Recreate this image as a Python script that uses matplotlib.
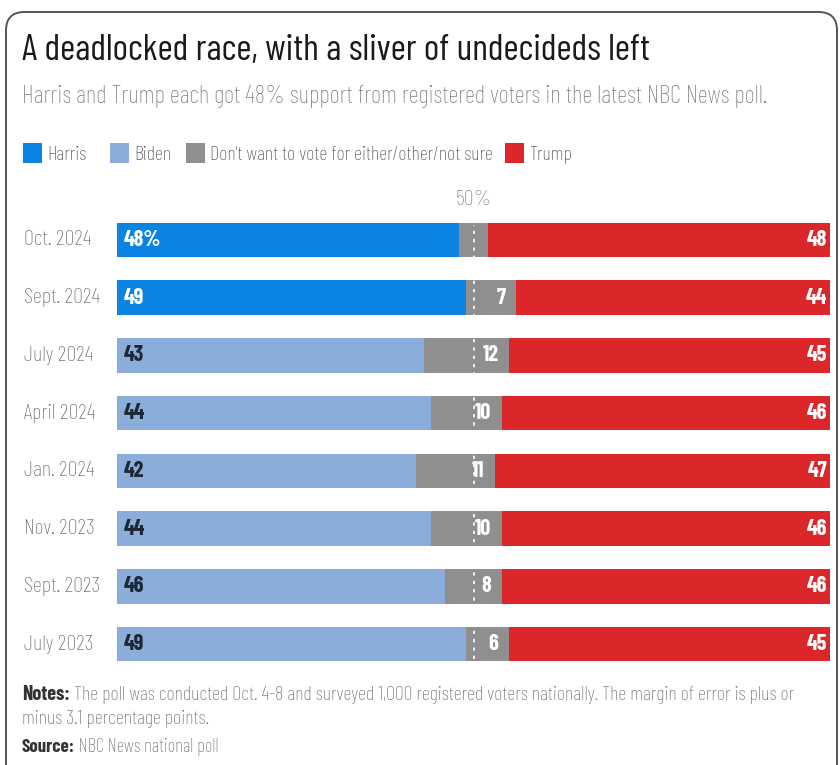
import matplotlib
matplotlib.use("Agg")
import matplotlib.pyplot as plt
import matplotlib.transforms as mtransforms
from matplotlib.patches import FancyBboxPatch, Rectangle
import numpy as np

plt.rcParams['font.family'] = ['Barlow Condensed', 'Roboto Condensed', 'DejaVu Sans']

# data (percent)
polls = ['Oct. 2024', 'Sept. 2024', 'July 2024', 'April 2024',
         'Jan. 2024', 'Nov. 2023', 'Sept. 2023', 'July 2023']
candidate = ['Harris', 'Harris', 'Biden', 'Biden', 'Biden', 'Biden', 'Biden', 'Biden']
dem = [48, 49, 43, 44, 42, 44, 46, 49]
undecided = [4, 7, 12, 10, 11, 10, 8, 6]
trump = [48, 44, 45, 46, 47, 46, 46, 45]
undecided_labels = ['', '7', '12', '10', '11', '10', '8', '6']
dem_labels = ['48%', '49', '43', '44', '42', '44', '46', '49']

legend_items = ['Harris', 'Biden', "Don't want to vote for either/other/not sure", 'Trump']

colors = {'Harris': '#0a84e3', 'Biden': '#8aaed9', 'Undecided': '#8f8f8f', 'Trump': '#dc272a'}
label_colors = {'Harris': 'white', 'Biden': '#1d2735'}

W, H = 840, 765
fig = plt.figure(figsize=(W / 100, H / 100), dpi=100, facecolor='white')


def fx(x):
    return x / W


def fy(y):
    return 1 - y / H


# rounded card border
card = FancyBboxPatch((fx(6), fy(790)), fx(831), (790 - 12) / H,
                      boxstyle="round,pad=0,rounding_size=0.022",
                      transform=fig.transFigure, facecolor='none',
                      edgecolor='#555555', linewidth=1.4, mutation_aspect=W / H)
fig.patches.append(card)

# title block
fig.text(fx(22), fy(60), 'A deadlocked race, with a sliver of undecideds left',
         fontsize=26.5, color='#1a1a1a', va='baseline')
fig.text(fx(22), fy(103), 'Harris and Trump each got 48% support from registered voters in the latest NBC News poll.',
         fontsize=18, color='#7a7a7a', fontweight='light', va='baseline')

# legend
leg_x = [23, 110, 186, 505]
leg_colors = [colors['Harris'], colors['Biden'], colors['Undecided'], colors['Trump']]
for x, lab, c in zip(leg_x, legend_items, leg_colors):
    fig.patches.append(Rectangle((fx(x), fy(163)), 19 / W, 20 / H,
                                 transform=fig.transFigure, facecolor=c, edgecolor='none'))
    fig.text(fx(x + 24), fy(160), lab, fontsize=14.5, color='#444444',
             fontweight='light', va='baseline')

# bars
ax = fig.add_axes([fx(117), fy(673), (830 - 117) / W, (673 - 211) / H])
y = np.arange(len(polls))
dem = np.array(dem)
undecided = np.array(undecided)
trump = np.array(trump)

ax.barh(y, dem, height=0.6, color=[colors[c] for c in candidate])
ax.barh(y, undecided, left=dem, height=0.6, color=colors['Undecided'])
ax.barh(y, trump, left=dem + undecided, height=0.6, color=colors['Trump'])

ax.axvline(50, ymin=0.03, ymax=0.97, color='white', linestyle=(0, (2, 3)), linewidth=1.2)

row_trans = mtransforms.blended_transform_factory(fig.transFigure, ax.transData)
for i in range(len(polls)):
    ax.text(1.0, i, dem_labels[i], color=label_colors[candidate[i]], fontsize=16,
            fontweight='bold', va='center', ha='left')
    ax.text(dem[i] + undecided[i] - 1.5, i, undecided_labels[i], color='white',
            fontsize=16, fontweight='bold', va='center', ha='right')
    ax.text(99.6, i, str(trump[i]), color='white', fontsize=16,
            fontweight='bold', va='center', ha='right')
    ax.text(fx(24), i, polls[i], fontsize=16, color='#666666', fontweight='light',
            va='center', ha='left', transform=row_trans, clip_on=False)

ax.text(50, -0.53, '50%', ha='center', va='bottom', fontsize=16, color='#777777',
        fontweight='light')

ax.set_xlim(0, 100)
ax.set_ylim(len(polls) - 0.5, -0.5)
ax.axis('off')

# notes
n1 = fig.text(fx(22), fy(700), 'Notes:', fontsize=14.5, fontweight='bold', color='#333333',
              va='baseline')
fig.add_artist(plt.Annotation(' The poll was conducted Oct. 4-8 and surveyed 1,000 registered voters nationally. The margin of error is plus or',
                              xy=(1, 0), xycoords=n1, va='bottom', ha='left', fontsize=14.5,
                              fontweight='light', color='#666666'))
fig.text(fx(22), fy(724), 'minus 3.1 percentage points.', fontsize=14.5, fontweight='light',
         color='#666666', va='baseline')
s1 = fig.text(fx(22), fy(752), 'Source:', fontsize=13.5, fontweight='bold', color='#333333',
              va='baseline')
fig.add_artist(plt.Annotation(' NBC News national poll', xy=(1, 0), xycoords=s1, va='bottom',
                              ha='left', fontsize=13.5, fontweight='light', color='#666666'))

fig.savefig('out.png', dpi=100)
